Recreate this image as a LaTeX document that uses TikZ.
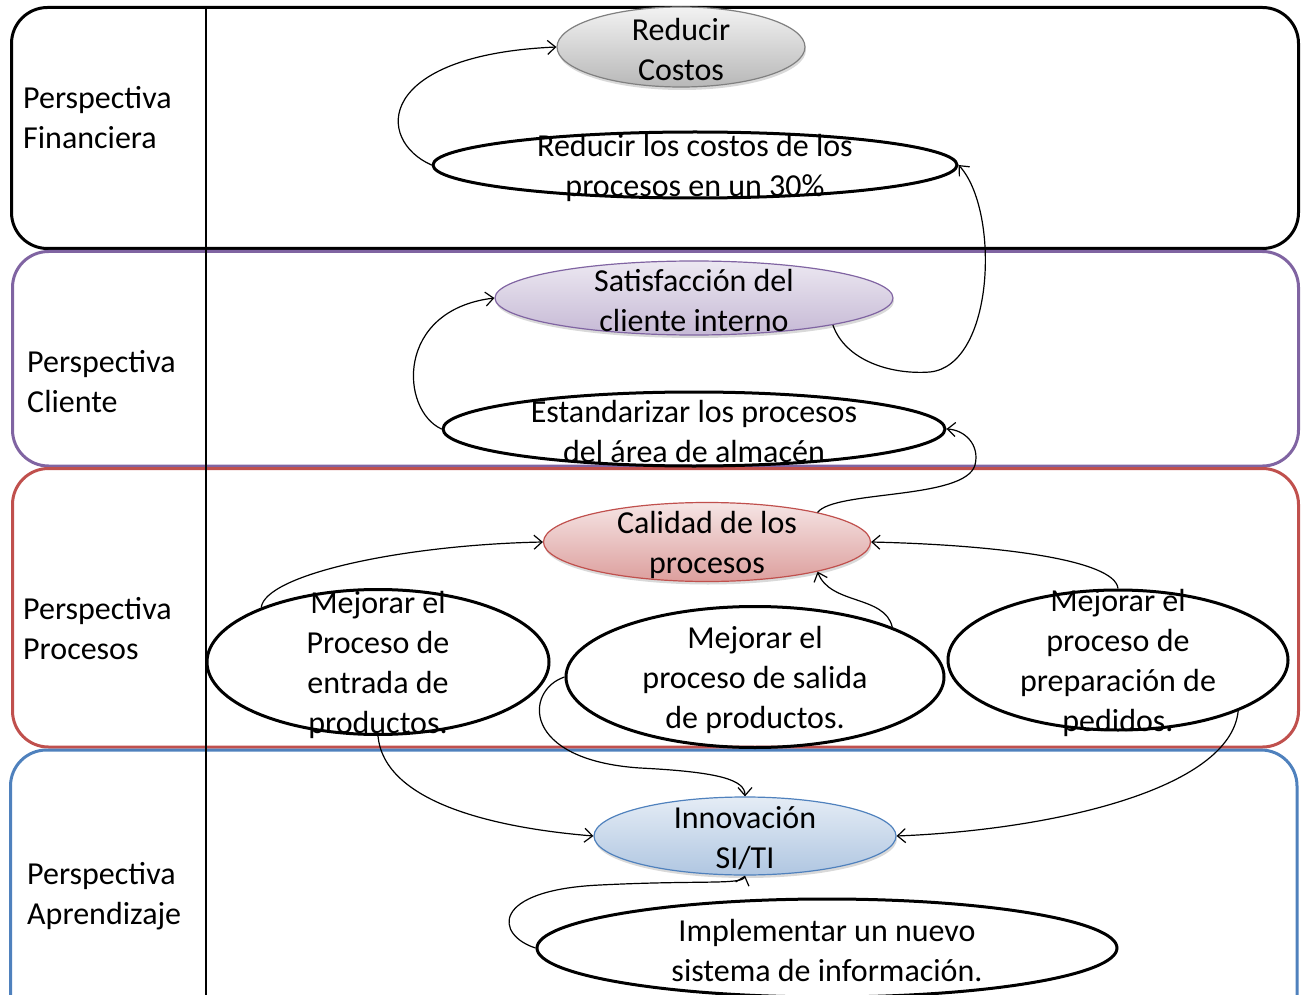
\documentclass[tikz,border=0pt]{standalone}
\usepackage{fontspec}
\setmainfont{Carlito}
\definecolor{bandpurple}{RGB}{128,100,162}
\definecolor{bandred}{RGB}{192,80,77}
\definecolor{bandblue}{RGB}{79,129,189}
\usepackage{tikz}
\usetikzlibrary{shapes.geometric, arrows.meta, shadows}

\tikzset{
  band/.style={line width=3pt, rounded corners=36pt},
  goal/.style={ellipse, draw, line width=3pt, inner sep=0pt},
  persp/.style={ellipse, draw, line width=1.2pt, inner sep=0pt,
    drop shadow={shadow xshift=1pt, shadow yshift=-3pt, opacity=.25, fill=black!60}},
  txt/.style={align=center, inner sep=0pt, yshift=-2.5pt, font=\fontsize{32}{40}\selectfont},
  lbl/.style={align=left, anchor=west, inner sep=0pt, font=\fontsize{32}{40}\selectfont},
  link/.style={-{Straight Barb[length=8pt,width=14pt]}, line width=1.2pt},
}

\begin{document}
\begin{tikzpicture}[x=1pt, y=-1pt]
  \useasboundingbox (0,0) rectangle (1307,995);
  \clip (0,0) rectangle (1307,995);

  % perspective bands
  \draw[band, black] (11.5,7.5) rectangle (1298.5,248.5);
  \draw[band, bandpurple] (12.5,251.5) rectangle (1298.5,466);
  \draw[band, bandred] (12.5,468.5) rectangle (1298.5,747);
  \draw[band, bandblue] (10.5,750) rectangle (1297,1040);
  \draw[line width=1.5pt] (206,7) -- (206,995);

  \node[lbl] (lfin) at (23,118) {Perspectiva\\Financiera};
  \node[lbl] (lcli) at (27,382) {Perspectiva\\Cliente};
  \node[lbl] (lpro) at (23,629) {Perspectiva\\Procesos};
  \node[lbl] (lapr) at (27,896) {Perspectiva\\Aprendizaje};

  % perspective objectives
  \node[persp, draw=black!50, top color=black!5, bottom color=black!28,
        minimum width=248, minimum height=80] (cost) at (681,47) {};
  \node[persp, draw=bandpurple, top color=bandpurple!15, bottom color=bandpurple!45,
        minimum width=398, minimum height=74] (sat) at (694,298) {};
  \node[persp, draw=bandred, top color=bandred!15, bottom color=bandred!55,
        minimum width=327, minimum height=79] (cal) at (707,542) {};
  \node[persp, draw=bandblue, top color=bandblue!15, bottom color=bandblue!45,
        minimum width=302, minimum height=78] (inn) at (745,836) {};

  % strategic goals
  \node[goal, minimum width=524, minimum height=66] (rcos) at (695,165) {};
  \node[goal, minimum width=502, minimum height=74] (est) at (694,429) {};
  \node[goal, minimum width=342, minimum height=145] (ent) at (378,662) {};
  \node[goal, minimum width=378, minimum height=141] (sal) at (755,677) {};
  \node[goal, minimum width=340, minimum height=140] (prep) at (1118,660) {};
  \node[goal, minimum width=580, minimum height=98] (impl) at (827,948) {};

  % links
  \draw[link] (rcos.west) .. controls (375,140) and (375,55) .. (cost.west);
  \draw[link] (sat.-11) .. controls (845,360) and (890,375) .. (930,372)
    .. controls (995,365) and (1000,210) .. (rcos.east);
  \draw[link] (est.west) .. controls (400,410) and (395,310) .. (sat.west);
  \draw[link] (cal.15) .. controls (835,490) and (965,500) .. (975,465)
    .. controls (980,445) and (965,430) .. (est.east);
  \draw[link] (ent.155) .. controls (265,575) and (400,545) .. (cal.west);
  \draw[link] (prep.north) .. controls (1115,560) and (1000,545) .. (cal.east);
  \draw[link] (sal.20) .. controls (885,595) and (830,605) .. (cal.-15);
  \draw[link] (ent.south) .. controls (385,810) and (520,830) .. (inn.west);
  \draw[link] (sal.west) .. controls (525,690) and (520,760) .. (640,768)
    .. controls (720,772) and (745,780) .. (inn.north);
  \draw[link] (prep.-23) .. controls (1230,790) and (1050,830) .. (inn.east);
  \draw[link] (impl.west) .. controls (495,935) and (490,890) .. (600,885)
    .. controls (700,880) and (742,885) .. (inn.south);

  % texts
  \node[txt] (tcost) at (cost) {Reducir\\Costos};
  \node[txt] (tsat) at (sat) {Satisfacción del\\cliente interno};
  \node[txt] (tcal) at (cal) {Calidad de los\\procesos};
  \node[txt] (tinn) at (inn) {Innovación\\SI/TI};
  \node[txt] (trcos) at (rcos) {Reducir los costos de los\\procesos en un 30\%};
  \node[txt] (test) at (est) {Estandarizar los procesos\\del área de almacén};
  \node[txt] (tent) at (ent) {Mejorar el\\Proceso de\\entrada de\\productos.};
  \node[txt] (tsal) at (sal) {Mejorar el\\proceso de salida\\de productos.};
  \node[txt] (tprep) at (prep) {Mejorar el\\proceso de\\preparación de\\pedidos.};
  \node[txt] (timpl) at (impl) {Implementar un nuevo\\sistema de información.};
\end{tikzpicture}
\end{document}
